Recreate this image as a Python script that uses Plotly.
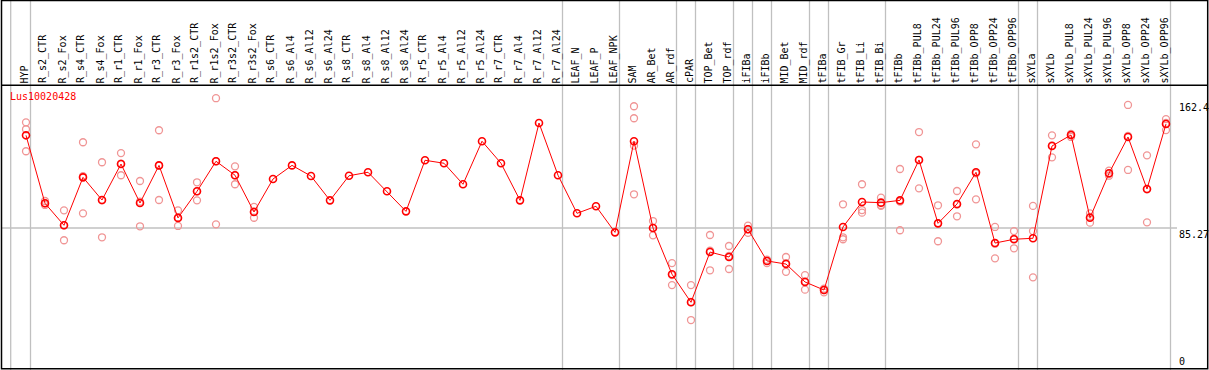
import plotly.graph_objects as go

categories = ["HYP", "R_s2_CTR", "R_s2_Fox", "R_s4_CTR", "R_s4_Fox", "R_r1_CTR", "R_r1_Fox",
              "R_r3_CTR", "R_r3_Fox", "R_r1s2_CTR", "R_r1s2_Fox", "R_r3s2_CTR", "R_r3s2_Fox",
              "R_s6_CTR", "R_s6_Al4", "R_s6_Al12", "R_s6_Al24", "R_s8_CTR", "R_s8_Al4", "R_s8_Al12",
              "R_s8_Al24", "R_r5_CTR", "R_r5_Al4", "R_r5_Al12", "R_r5_Al24", "R_r7_CTR", "R_r7_Al4",
              "R_r7_Al12", "R_r7_Al24", "LEAF_N", "LEAF_P", "LEAF_NPK", "SAM", "AR_Bet", "AR_rdf",
              "cPAR", "TOP_Bet", "TOP_rdf", "iFIBa", "iFIBb", "MID_Bet", "MID_rdf", "tFIBa",
              "tFIB_Gr", "tFIB_Li", "tFIB_Bi", "tFIBb", "tFIBb_PUL8", "tFIBb_PUL24", "tFIBb_PUL96",
              "tFIBb_OPP8", "tFIBb_OPP24", "tFIBb_OPP96", "sXYLa", "sXYLb", "sXYLb_PUL8",
              "sXYLb_PUL24", "sXYLb_PUL96", "sXYLb_OPP8", "sXYLb_OPP24", "sXYLb_OPP96"]

means = [141.7, 100.3, 86.9, 116.1, 102.3, 124.2, 100.5, 123.4, 91.4, 107.6, 125.9, 117.4, 95.0,
         115.1, 123.4, 116.9, 102.1, 117.1, 119.2, 107.6, 95.4, 126.5, 124.7, 111.9, 138.1, 124.7,
         102.1, 149.2, 117.4, 94.2, 98.5, 82.6, 138.1, 85.3, 57.1, 40.0, 70.6, 67.6, 84.5, 65.2,
         63.3, 52.4, 47.5, 85.9, 101.1, 100.7, 102.1, 126.7, 88.1, 99.9, 119.2, 76.1, 78.4, 79.0,
         135.2, 141.9, 91.5, 118.6, 140.7, 109.0, 148.6]

replicates = [
    [149.6, 145.4, 132.0], [101.7, 100.3, 99.3], [96.0, 86.9, 77.8], [137.5, 116.8, 94.2],
    [125.3, 102.1, 79.6], [130.9, 124.4, 117.4], [113.9, 101.3, 86.3], [144.8, 123.2, 102.3],
    [96.0, 91.5, 86.5], [113.1, 107.6, 102.1], [164.3, 125.9, 87.5], [122.8, 117.4, 111.9],
    [98.1, 95.4, 91.5],
    [], [], [], [], [], [], [], [], [], [], [], [], [], [], [], [], [], [], [],
    [159.4, 152.1, 135.4, 105.8], [89.5, 85.3, 80.8], [63.9, 56.6, 50.5], [50.5, 40.2, 29.2],
    [81.0, 71.4, 59.5], [74.3, 68.2, 60.3], [86.7, 84.5, 82.3], [66.0, 65.2, 63.9],
    [67.6, 63.8, 58.6], [56.6, 52.8, 47.7], [48.3, 47.5, 46.1], [99.7, 79.6, 78.4],
    [111.9, 96.2, 94.6], [103.7, 99.3, 98.7], [121.2, 101.3, 83.9], [143.7, 126.7, 109.4],
    [99.1, 88.1, 77.2], [107.8, 99.5, 92.4], [136.2, 118.6, 102.7], [85.9, 75.7, 66.8],
    [83.4, 78.7, 72.9], [98.7, 83.4, 55.2], [141.7, 135.6, 128.3], [142.5, 141.9, 140.7],
    [94.2, 92.0, 88.5], [120.2, 118.3, 117.1], [160.2, 141.3, 120.6], [129.5, 108.8, 88.7],
    [151.6, 149.2, 144.9],
]

tick_values = [162.4, 85.27, 0]
tick_labels = ["162.4", "85.27", "0"]
gene_id = "Lus10020428"
group_ends = [0, 28, 31, 34, 35, 37, 38, 39, 41, 42, 45, 52, 53, 60]

W, H = 1209, 370
X0, DX = 26.0, 19.0          # pixel of first category, spacing
Y0, SY = 368.0, 1.642         # pixel of value 0, pixels per unit


def px_x(p):
    return (p - X0) / DX


def px_y(p):
    return (Y0 - p) / SY


MONO = "DejaVu Sans Mono"
idx = list(range(len(categories)))

rx, ry = [], []
for i, reps in enumerate(replicates):
    for v in reps:
        rx.append(i)
        ry.append(v)

fig = go.Figure()
fig.add_trace(go.Scatter(x=rx, y=ry, mode="markers",
                         marker=dict(symbol="circle-open", size=7, color="#f09595",
                                     line=dict(width=1.3, color="#f09595")),
                         hoverinfo="skip", showlegend=False))
fig.add_trace(go.Scatter(x=idx, y=means, mode="lines+markers",
                         line=dict(color="#ff0000", width=1),
                         marker=dict(symbol="circle-open", size=7, color="#ff0000",
                                     line=dict(width=1.6, color="#ff0000")),
                         hoverinfo="skip", showlegend=False))

shapes = []
grey = "#c0c0c0"
vlines = [px_x(10.7)] + [g + 4.5 / DX for g in group_ends]
for xv in vlines:
    shapes.append(dict(type="line", xref="x", yref="paper", x0=xv, x1=xv, y0=0, y1=1,
                       line=dict(color=grey, width=1.3), layer="below"))
shapes.append(dict(type="line", xref="x", yref="y", x0=px_x(2), x1=px_x(1177),
                   y0=tick_values[1], y1=tick_values[1], line=dict(color=grey, width=1.3),
                   layer="below"))
blk = dict(color="black", width=1.5)
shapes.append(dict(type="rect", xref="paper", yref="paper", x0=1.5 / W, x1=1207.7 / W,
                   y0=1 - 368.8 / H, y1=1 - 0.5 / H, line=blk))
shapes.append(dict(type="line", xref="paper", yref="paper", x0=1.5 / W, x1=1207.7 / W,
                   y0=1 - 85.2 / H, y1=1 - 85.2 / H, line=blk))

annotations = []
for i, c in enumerate(categories):
    annotations.append(dict(x=i, xref="x", xshift=-2, y=1 - 84.5 / H, yref="paper",
                            text=c, textangle=-90, showarrow=False, xanchor="center",
                            yanchor="bottom", borderpad=0,
                            font=dict(family=MONO, size=10, color="black")))
annotations.append(dict(x=8.5 / W, xref="paper", y=1 - 96.7 / H, yref="paper", text=gene_id,
                        showarrow=False, xanchor="left", yanchor="middle", borderpad=0,
                        font=dict(family=MONO, size=10, color="#ff0000")))
for v, t in zip(tick_values, tick_labels):
    annotations.append(dict(x=px_x(1178), xref="x", y=v, yref="y", text=t, showarrow=False,
                            xanchor="left", yanchor="bottom" if v == 0 else "top",
                            borderpad=0,
                            font=dict(family=MONO, size=10, color="black")))

fig.update_layout(
    width=W, height=H, margin=dict(l=0, r=0, t=0, b=0, autoexpand=False),
    paper_bgcolor="white", plot_bgcolor="white",
    xaxis=dict(range=[px_x(0), px_x(W)], visible=False, fixedrange=True),
    yaxis=dict(range=[px_y(H), px_y(0)], visible=False, fixedrange=True),
    shapes=shapes, annotations=annotations, showlegend=False, hovermode=False,
)

fig.write_html("out.html", config={"displayModeBar": False, "staticPlot": True},
               post_script="document.body.style.margin='0';document.body.style.overflow='hidden';")
